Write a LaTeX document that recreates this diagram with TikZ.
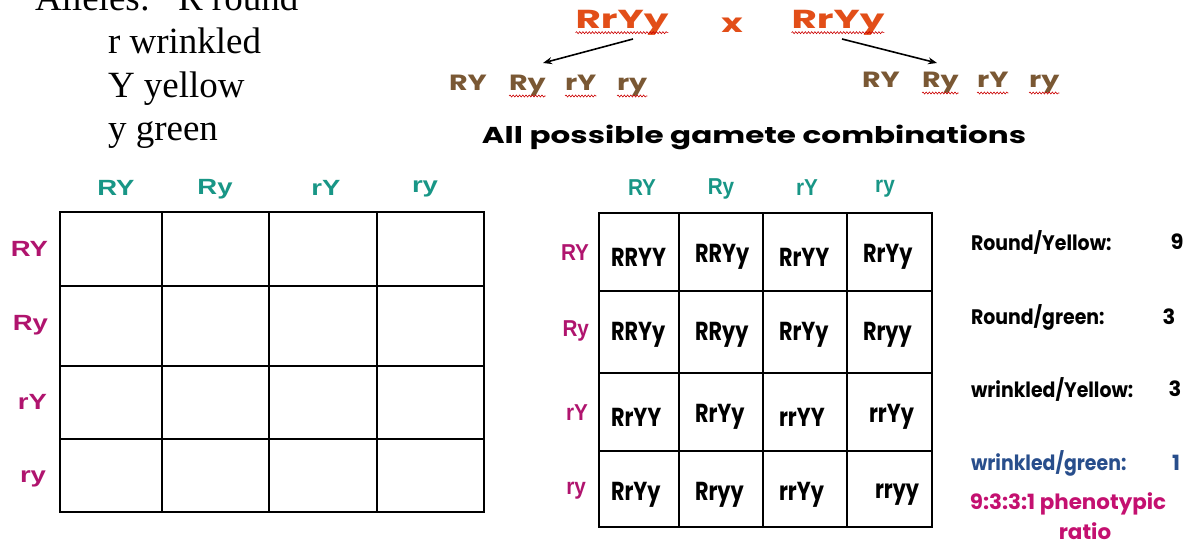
\documentclass[tikz,border=0pt]{standalone}
\usepackage{fontspec}
\setmainfont{Liberation Serif}
\newfontfamily\arialf{Liberation Sans}
\newfontfamily\comicf{Poppins}
\usetikzlibrary{arrows.meta,decorations.pathmorphing}
\definecolor{tealc}{RGB}{24,150,134}
\definecolor{magc}{RGB}{176,20,110}
\definecolor{crossc}{RGB}{226,78,24}
\definecolor{gamc}{RGB}{122,88,52}
\definecolor{bluec}{RGB}{40,78,140}
\definecolor{ratioc}{RGB}{196,16,112}
\newcommand{\sxx}[2]{\scalebox{#1}[1]{#2}}
\tikzset{
  txt/.style={inner sep=0pt, outer sep=0pt},
  allele/.style={txt, anchor=base west, font=\fontsize{37}{42}\selectfont},
  cross/.style={txt, text=crossc, font=\comicf\bfseries\fontsize{26}{30}\selectfont},
  gam/.style={txt, anchor=base west, text=gamc, font=\comicf\bfseries\fontsize{22}{26}\selectfont},
  hdrL/.style={txt, text=tealc, font=\arialf\bfseries\fontsize{22}{26}\selectfont},
  rowL/.style={txt, anchor=east, text=magc, font=\arialf\bfseries\fontsize{22}{26}\selectfont},
  hdrR/.style={txt, text=tealc, font=\arialf\bfseries\fontsize{23}{27}\selectfont},
  rowR/.style={txt, anchor=east, text=magc, font=\arialf\bfseries\fontsize{23}{27}\selectfont},
  cell/.style={txt, anchor=west, font=\comicf\bfseries\fontsize{26}{30}\selectfont},
  pheno/.style={txt, anchor=west, font=\comicf\bfseries\fontsize{21}{25}\selectfont},
  squig/.style={red!80!black, line width=0.6pt, decorate, decoration={snake, amplitude=1pt, segment length=3.2pt}},
  arr/.style={line width=1.6pt, -{Stealth[length=9pt,width=7pt]}},
  outer/.style={line width=2.8pt},
  inner/.style={line width=1.4pt}
}
\begin{document}
\begin{tikzpicture}[x=1pt,y=-1pt]
\useasboundingbox[fill=white] (0,0) rectangle (1189,545);

% Alleles
\node[allele] (al) at (35,11) {Alleles:};
\node[allele] (alR) at (178,11) {R round};
\node[allele] (alr) at (108,54) {r wrinkled};
\node[allele] (alY) at (108,98) {Y yellow};
\node[allele] (aly) at (108,141) {y green};

% Cross
\node[cross] (p1) at (622,23) {\sxx{1.5}{RrYy}};
\node[cross] (xx) at (732,25) {\sxx{1.4}{x}};
\node[cross] (p2) at (838,23) {\sxx{1.5}{RrYy}};
\draw[squig] ([yshift=-4pt]p1.base west) -- ([yshift=-4pt]p1.base east);
\draw[squig] ([yshift=-4pt]p2.base west) -- ([yshift=-4pt]p2.base east);

% gametes
\node[gam] (gl1) at (449,91) {\sxx{1.3}{RY}};
\node[gam] (gl2) at (509,91) {\sxx{1.3}{Ry}};
\node[gam] (gl3) at (565,91) {\sxx{1.3}{rY}};
\node[gam] (gl4) at (617,91) {\sxx{1.3}{ry}};
\node[gam] (gr1) at (862,88) {\sxx{1.3}{RY}};
\node[gam] (gr2) at (922,88) {\sxx{1.3}{Ry}};
\node[gam] (gr3) at (977,88) {\sxx{1.3}{rY}};
\node[gam] (gr4) at (1029,88) {\sxx{1.3}{ry}};
\foreach \g in {gl2,gl3,gl4,gr2,gr3,gr4}{
  \draw[squig] ([yshift=-5pt]\g.base west) -- ([yshift=-5pt]\g.base east);
}

\coordinate (a1s) at (633,39);
\coordinate (a1e) at (543,63);
\coordinate (a2s) at (842,39);
\coordinate (a2e) at (937,63);
\draw[arr] (a1s) -- (a1e);
\draw[arr] (a2s) -- (a2e);

\node[txt, font=\comicf\bfseries\fontsize{23}{27}\selectfont] (allp) at (754,137) {\sxx{1.35}{All possible gamete combinations}};

% Left grid
\draw[inner] (162,212) -- (162,512) (269,212) -- (269,512) (377,212) -- (377,512);
\draw[inner] (60,286) -- (484,286) (60,366) -- (484,366) (60,439) -- (484,439);
\draw[outer] (60,212) rectangle (484,512);

\node[hdrL] (lh1) at (116,188) {\sxx{1.25}{RY}};
\node[hdrL] (lh2) at (215,189) {\sxx{1.25}{Ry}};
\node[hdrL] (lh3) at (326,188) {\sxx{1.25}{rY}};
\node[hdrL] (lh4) at (425,189) {\sxx{1.25}{ry}};
\node[rowL] (lr1) at (48,249) {\sxx{1.25}{RY}};
\node[rowL] (lr2) at (48,325) {\sxx{1.25}{Ry}};
\node[rowL] (lr3) at (47,402) {\sxx{1.25}{rY}};
\node[rowL] (lr4) at (46,479) {\sxx{1.25}{ry}};

% Right grid
\draw[inner] (679,213) -- (679,527) (763,213) -- (763,527) (847,213) -- (847,527);
\draw[inner] (599,291) -- (932,291) (599,373) -- (932,373) (599,451) -- (932,451);
\draw[outer] (599,213) rectangle (932,527);

\node[hdrR] (rh1) at (642,188) {\sxx{0.9}{RY}};
\node[hdrR] (rh2) at (721,189) {\sxx{0.9}{Ry}};
\node[hdrR] (rh3) at (807,188) {\sxx{0.9}{rY}};
\node[hdrR] (rh4) at (885,189) {\sxx{0.9}{ry}};
\node[rowR] (rr1) at (589,253) {\sxx{0.9}{RY}};
\node[rowR] (rr2) at (589,331) {\sxx{0.9}{Ry}};
\node[rowR] (rr3) at (588,413) {\sxx{0.9}{rY}};
\node[rowR] (rr4) at (586,491) {\sxx{0.9}{ry}};

\node[cell] (c11) at (611,257) {\sxx{0.8}{RRYY}};
\node[cell] (c12) at (695,257) {\sxx{0.8}{RRYy}};
\node[cell] (c13) at (779,257) {\sxx{0.8}{RrYY}};
\node[cell] (c14) at (863,257) {\sxx{0.8}{RrYy}};
\node[cell] (c21) at (611,335) {\sxx{0.8}{RRYy}};
\node[cell] (c22) at (695,335) {\sxx{0.8}{RRyy}};
\node[cell] (c23) at (779,335) {\sxx{0.8}{RrYy}};
\node[cell] (c24) at (863,335) {\sxx{0.8}{Rryy}};
\node[cell] (c31) at (611,417) {\sxx{0.8}{RrYY}};
\node[cell] (c32) at (695,417) {\sxx{0.8}{RrYy}};
\node[cell] (c33) at (779,417) {\sxx{0.8}{rrYY}};
\node[cell] (c34) at (869,417) {\sxx{0.8}{rrYy}};
\node[cell] (c41) at (611,495) {\sxx{0.8}{RrYy}};
\node[cell] (c42) at (695,495) {\sxx{0.8}{Rryy}};
\node[cell] (c43) at (779,495) {\sxx{0.8}{rrYy}};
\node[cell] (c44) at (875,495) {\sxx{0.8}{rryy}};

% phenotypes
\node[pheno] (ph1) at (971,242) {\sxx{0.9}{Round/Yellow:}};
\node[pheno, anchor=center] (n1) at (1177,242) {9};
\node[pheno] (ph2) at (971,317) {\sxx{0.9}{Round/green:}};
\node[pheno, anchor=center] (n2) at (1169,317) {3};
\node[pheno] (ph3) at (971,389) {\sxx{0.9}{wrinkled/Yellow:}};
\node[pheno, anchor=center] (n3) at (1175,389) {3};
\node[pheno, text=bluec] (ph4) at (971,463) {\sxx{0.9}{wrinkled/green:}};
\node[pheno, anchor=center, text=bluec] (n4) at (1176,463) {1};
\node[pheno, anchor=center, text=ratioc] (rat1) at (1068,504) {\sxx{1.02}{9:3:3:1 phenotypic}};
\node[pheno, anchor=center, text=ratioc] (rat2) at (1085,531) {\sxx{1.02}{ratio}};
\end{tikzpicture}
\end{document}
